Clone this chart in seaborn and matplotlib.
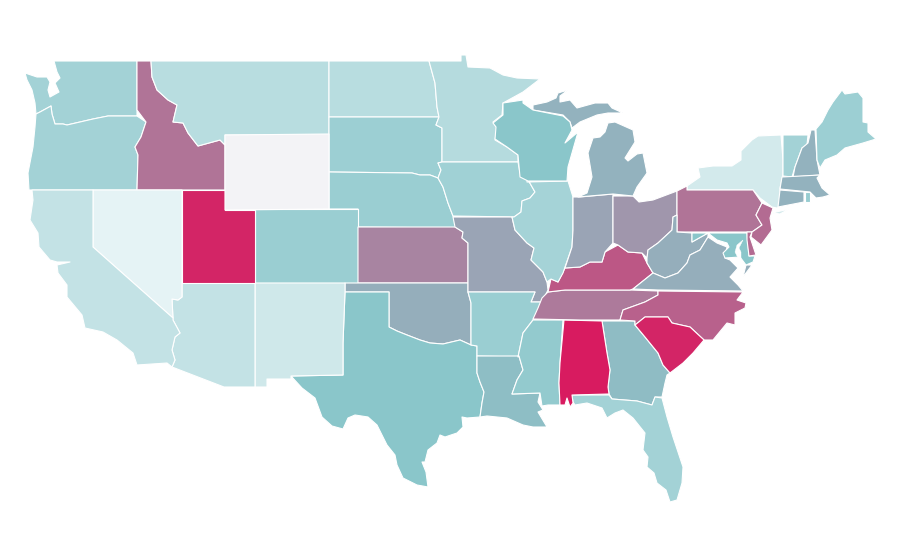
import numpy as np
import seaborn as sns
import matplotlib.pyplot as plt

# outlines, in picture pixels (x, y)
WA = [(54,61),(137,61),(137,110),(137,116),(108,116),(93,119),(80,122),(67,125),(63,124),(55,124),(52,114),(51,106),(40,112),(36,114),(35,103),(32,90),(27,80),(25,73),(37,77),(47,77),(50,82),(48,90),(50,97),(59,92),(55,83),(60,78),(57,72)]
OR = [(36,114),(40,112),(51,106),(52,114),(55,124),(63,124),(67,125),(80,122),(93,119),(108,116),(137,116),(146,122),(141,137),(135,147),(138,155),(137,190),(29,190),(28,173),(33,147),(35,127)]
ID = [(137,61),(151,61),(152,77),(157,90),(168,100),(177,105),(173,122),(183,123),(188,133),(198,146),(220,140),(225,145),(225,190),(137,190),(138,155),(135,147),(141,137),(146,122),(137,110)]
MT = [(151,61),(329,61),(329,135),(225,135),(225,145),(220,140),(198,146),(188,133),(183,123),(173,122),(177,105),(168,100),(157,90),(152,77)]
WY = [(225,135),(329,134),(329,209),(225,210)]
ND = [(329,61),(429,61),(435,83),(437,107),(439,117),(329,117)]
SD = [(329,117),(439,117),(436,125),(442,128),(442,162),(438,163),(441,170),(438,178),(430,175),(420,175),(412,173),(329,172)]
NE = [(329,172),(412,173),(420,175),(430,175),(438,178),(443,187),(448,203),(453,216),(458,228),(358,227),(358,209),(329,209)]
CO = [(255,209),(358,209),(358,283),(255,283)]
KS = [(358,227),(455,227),(463,232),(462,238),(468,243),(468,283),(358,283)]
OK = [(345,283),(468,283),(468,292),(471,303),(471,345),(460,340),(443,344),(430,343),(420,340),(407,335),(397,331),(389,327),(389,292),(345,292)]
TX = [(345,292),(389,292),(389,327),(397,331),(407,335),(420,340),(430,343),(443,344),(460,340),(471,345),(477,346),(477,373),(480,382),(484,392),(482,403),(480,417),(467,418),(462,417),(463,427),(457,433),(445,437),(440,435),(437,443),(428,450),(425,462),(422,462),(426,472),(428,487),(417,485),(403,478),(397,465),(395,455),(387,445),(377,425),(368,417),(355,415),(348,418),(343,429),(332,426),(322,417),(315,398),(302,388),(291,376),(343,375),(343,343)]
NM = [(255,283),(345,283),(345,292),(343,343),(343,375),(291,376),(291,379),(267,379),(267,387),(255,387)]
AZ = [(182,283),(255,283),(255,387),(224,387),(172,367),(175,360),(172,350),(175,337),(180,333),(173,320),(172,299),(178,300),(182,297)]
NV = [(93,190),(182,190),(182,297),(178,300),(172,299),(173,318),(93,247)]
UT = [(182,190),(225,190),(225,210),(255,210),(255,283),(182,283)]
CA = [(32,190),(93,190),(93,247),(173,318),(173,320),(180,333),(175,337),(172,350),(175,360),(172,367),(167,363),(137,365),(133,353),(117,340),(103,332),(85,328),(82,315),(67,297),(67,285),(58,273),(57,265),(70,262),(57,262),(50,260),(39,247),(38,233),(30,220),(33,200)]
MN = [(429,61),(461,61),(461,55),(466,55),(468,67),(490,68),(503,75),(517,78),(540,79),(523,92),(503,103),(502,115),(493,122),(497,128),(495,140),(507,147),(518,155),(518,162),(442,162),(442,128),(436,125),(439,117),(437,107),(435,83)]
IA = [(442,162),(518,162),(520,173),(527,178),(535,192),(530,198),(522,201),(521,212),(514,217),(453,216),(448,203),(443,187),(438,178),(441,170),(438,163)]
MO = [(453,217),(512,217),(515,230),(527,243),(534,248),(531,260),(543,272),(547,282),(548,290),(542,302),(531,302),(535,292),(468,292),(468,243),(462,238),(463,232),(455,227)]
AR = [(468,292),(535,292),(531,302),(542,302),(533,320),(523,333),(518,357),(477,356),(477,346),(471,345),(471,303)]
LA = [(477,356),(519,356),(523,370),(517,380),(512,394),(540,393),(538,402),(543,410),(538,412),(547,427),(533,427),(523,425),(507,418),(487,416),(480,417),(482,403),(484,392),(480,382),(477,373)]
MS = [(533,320),(563,320),(560,363),(559,383),(560,405),(548,405),(542,406),(540,393),(512,394),(517,380),(523,370),(519,356),(518,357),(523,333)]
AL = [(564,320),(602,321),(607,353),(610,370),(608,387),(609,394),(572,395),(573,403),(570,407),(567,398),(565,405),(560,405),(559,383),(560,363)]
GA = [(602,321),(635,321),(635,325),(645,337),(658,353),(663,365),(670,373),(667,375),(665,383),(662,397),(655,397),(652,405),(637,401),(612,399),(609,394),(608,387),(610,370),(607,353)]
FL = [(572,395),(609,395),(612,399),(637,401),(652,405),(655,397),(662,398),(667,417),(673,437),(683,467),(682,483),(677,500),(670,502),(666,490),(657,483),(654,473),(647,467),(648,457),(643,450),(645,433),(633,418),(623,410),(615,413),(607,418),(602,408),(587,403),(575,405),(573,402)]
TN = [(548,292),(565,290),(602,290),(630,290),(658,291),(658,295),(645,302),(623,310),(620,320),(580,320),(533,319),(538,308),(542,298)]
KY = [(548,292),(551,279),(558,282),(565,268),(580,267),(590,262),(602,262),(605,252),(618,245),(628,252),(642,253),(647,263),(653,273),(633,289),(630,290),(602,290),(565,290)]
IL = [(527,182),(568,181),(573,197),(573,230),(572,247),(565,267),(563,273),(558,282),(551,279),(547,282),(543,272),(531,260),(534,248),(527,243),(515,230),(512,217),(514,217),(521,212),(522,201),(530,198),(535,192),(527,178)]
IN = [(573,197),(580,197),(613,194),(613,224),(613,243),(605,252),(602,262),(590,262),(580,267),(565,268),(572,247),(573,230)]
OH = [(613,196),(633,196),(639,202),(653,200),(677,191),(677,215),(673,217),(672,230),(658,243),(648,250),(647,258),(642,253),(628,252),(618,245),(613,243)]
MI_LOWER = [(578,197),(613,194),(633,196),(637,187),(647,173),(643,153),(637,154),(628,161),(625,158),(635,142),(633,130),(615,122),(608,123),(605,132),(600,137),(593,138),(588,153),(592,177),(587,193)]
MI_UPPER = [(533,105),(547,102),(556,98),(558,93),(568,90),(560,96),(560,102),(570,100),(577,108),(595,103),(608,103),(612,108),(623,113),(608,113),(597,115),(580,122),(572,128),(570,122),(563,115),(533,110)]
WI = [(503,103),(523,100),(523,103),(533,110),(563,116),(570,122),(572,130),(565,143),(578,132),(568,167),(567,181),(528,181),(520,177),(518,155),(507,147),(495,139),(496,127),(493,123),(503,115)]
NY = [(687,190),(687,186),(700,177),(698,168),(713,166),(732,166),(741,160),(741,151),(752,140),(758,136),(781,135),(783,160),(783,175),(780,188),(779,207),(777,208),(772,207),(760,198),(753,190)]
NY_LI = [(772,213),(789,209),(780,214)]
PA = [(677,191),(687,186),(687,190),(753,190),(762,203),(756,215),(762,225),(752,232),(677,232)]
NJ = [(762,203),(773,208),(770,218),(772,230),(761,245),(751,237),(752,232),(762,225),(756,215)]
DE = [(747,232),(752,232),(750,237),(756,255),(749,256),(747,240)]
MD = [(692,233),(747,233),(749,256),(755,256),(753,262),(746,265),(740,257),(725,258),(723,253),(729,247),(727,243),(717,240),(708,233),(692,242)]
WV = [(677,215),(677,232),(692,233),(692,242),(708,233),(708,237),(700,250),(690,255),(687,263),(678,273),(665,278),(653,273),(647,263),(647,258),(648,250),(658,243),(672,230),(673,217)]
VA = [(633,289),(653,273),(665,278),(678,273),(687,263),(690,255),(700,250),(708,237),(717,243),(727,247),(725,258),(730,260),(738,268),(730,277),(738,285),(743,291),(658,290)]
VA_SHORE = [(746,265),(752,265),(743,277)]
NC = [(658,291),(743,292),(737,300),(746,303),(745,308),(735,313),(735,325),(727,323),(713,340),(704,340),(690,327),(672,323),(668,317),(645,317),(635,325),(635,321),(620,320),(623,310),(645,302),(658,295)]
SC = [(635,325),(645,317),(668,317),(672,323),(690,327),(704,340),(693,353),(683,363),(670,373),(663,365),(658,353),(645,337)]
VT = [(783,135),(808,135),(807,145),(802,148),(795,167),(792,177),(783,176),(783,160)]
NH = [(811,130),(815,130),(817,160),(820,175),(793,177),(795,167),(802,148),(808,143)]
ME = [(816,129),(822,122),(828,110),(833,102),(842,90),(845,94),(858,92),(863,98),(863,122),(868,123),(868,132),(876,139),(863,143),(845,148),(837,155),(825,160),(820,168),(817,160)]
MA = [(782,177),(820,175),(817,178),(822,188),(830,195),(823,197),(816,198),(810,192),(780,189)]
CT = [(780,190),(804,192),(804,202),(778,207)]
RI = [(805,192),(810,192),(810,202),(805,202)]
CHESAPEAKE = [(743,240),(737,245),(735,252),(738,258),(741,260),(741,252),(739,248)]

SHAPES = [WA, OR, ID, MT, ND, SD, NE, CO, KS, OK, TX, NM, AZ, NV, UT, CA, MN, IA, MO, AR, LA, MS, GA, FL, AL,
          TN, KY, IL, IN, OH, MI_LOWER, MI_UPPER, WI, NY, NY_LI, PA, WV, VA, VA_SHORE, MD, DE, NJ, NC, SC,
          VT, NH, ME, MA, CT, RI, WY]
VALUES = [.39, .39, .74, .30, .30, .42, .43, .43, .69, .57, .50, .20, .25, .10, .97, .25, .31, .40, .60, .43, .525, .46, .53, .39, 1.0,
          .72, .82, .38, .60, .64, .56, .56, .50, .18, .18, .74, .57, .57, .57, .50, .76, .76, .79, .97,
          .39, .56, .42, .56, .56, .44, .0]

COLOR_STOPS = ['#f3f3f6', '#e5f3f5', '#8ac6ca', '#d81b60']
STOP_VALUES = [0, .1, .5, 1]

sns.set_theme(style='white')
cmap = sns.blend_palette(COLOR_STOPS, n_colors=256, as_cmap=True)

fig = plt.figure(figsize=(9, 5.6), dpi=100)
ax = fig.add_axes([0, 0, 1, 1])

for shape, value in zip(SHAPES, VALUES):
    pos = np.interp(value, STOP_VALUES, np.linspace(0, 1, len(STOP_VALUES)))
    xs, ys = zip(*shape)
    ax.fill(xs, ys, facecolor=cmap(pos), edgecolor='white', linewidth=0.8, joinstyle='round')

xs, ys = zip(*CHESAPEAKE)
ax.fill(xs, ys, facecolor='white', edgecolor='white', linewidth=0.3)

ax.set_xlim(0, 900)
ax.set_ylim(560, 0)
ax.axis('off')

fig.savefig('out.png', dpi=100)
plt.close(fig)
